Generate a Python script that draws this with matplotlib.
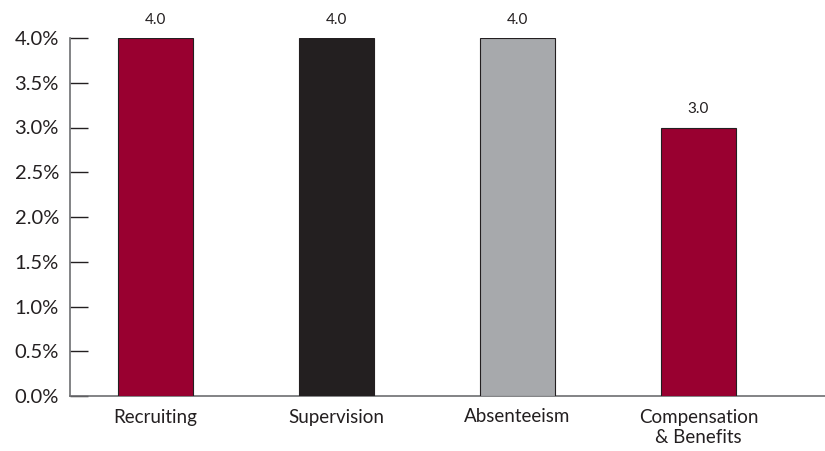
import matplotlib
matplotlib.use("Agg")
import matplotlib.pyplot as plt
from matplotlib.ticker import FuncFormatter

categories = ["Recruiting", "Supervision", "Absenteeism", "Compensation\n& Benefits"]
values = [4.0, 4.0, 4.0, 3.0]
colors = ["#990030", "#231f20", "#a7a9ac", "#990030"]
yticks = [0.0, 0.5, 1.0, 1.5, 2.0, 2.5, 3.0, 3.5, 4.0]

plt.rcParams['font.family'] = ['Lato', 'DejaVu Sans']

fig = plt.figure(figsize=(8.25, 4.51), dpi=100)
ax = fig.add_axes([70/825, 1-396/451, 1-70/825, (396-38)/451])

x = list(range(len(categories)))
bars = ax.bar(x, values, width=0.414, color=colors, edgecolor="#231f20", linewidth=0.8, zorder=3)

for xi, v in zip(x, values):
    ax.annotate(f"{v:.1f}", (xi, v), xytext=(0, 8), textcoords="offset points",
                ha="center", va="bottom", fontsize=11, color="#231f20", annotation_clip=False)

ax.set_xlim(-0.472, 3.699)
ax.set_ylim(0, 4.0)
ax.set_yticks(yticks)
ax.yaxis.set_major_formatter(FuncFormatter(lambda v, p: f"{v:.1f}%"))
ax.set_xticks(x)
ax.set_xticklabels(categories, fontsize=13.5, color="#231f20", linespacing=1.25)

gray = "#6d6e71"
for s in ["top", "right"]:
    ax.spines[s].set_visible(False)
for s in ["left", "bottom"]:
    ax.spines[s].set_color(gray)
    ax.spines[s].set_linewidth(1.2)

ax.tick_params(axis="y", direction="in", length=13, width=1, color="#231f20",
               labelsize=14.5, labelcolor="#231f20", pad=8)
ax.tick_params(axis="x", length=0, pad=9)

fig.savefig("out.png", dpi=100)
